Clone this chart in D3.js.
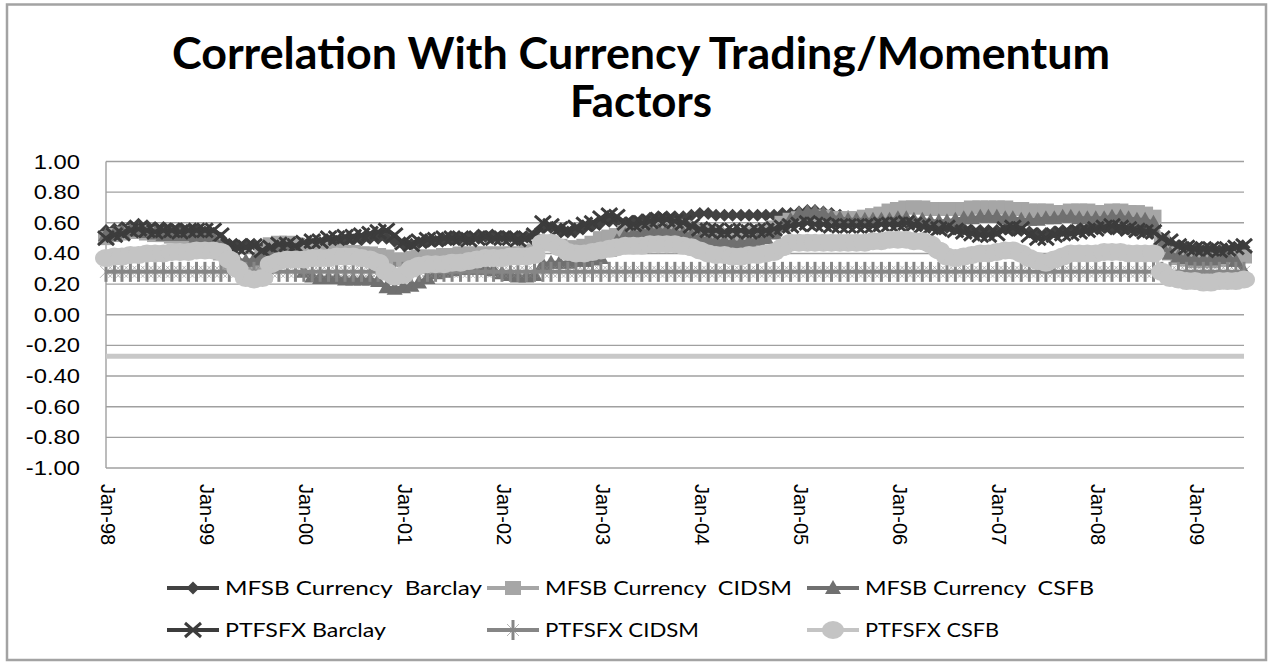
<!doctype html>
<html lang="en">
<head>
<meta charset="utf-8">
<title>Correlation With Currency Trading/Momentum Factors</title>
<style>
  body { margin: 0; background: #fff; }
  svg { display: block; }
  text { font-family: "Liberation Sans", Arial, sans-serif; fill: #000; }
  .title { font-family: Lato, "Open Sans", sans-serif; font-weight: 700; font-size: 43px; }
  .legend text { font-family: Lato, "Open Sans", sans-serif; font-size: 20px; white-space: pre; }
</style>
</head>
<body>
<div id="chart"></div>
<script src="https://cdn.jsdelivr.net/npm/d3@7"></script>
<script>
// monthly observations, Jan-98 .. Jul-09
const firstMonth = new Date(1998, 0, 1)
const lastMonth = new Date(2009, 6, 1)
const yearLabels = ['Jan-98','Jan-99','Jan-00','Jan-01','Jan-02','Jan-03','Jan-04','Jan-05','Jan-06','Jan-07','Jan-08','Jan-09']
const yTicks = [1, 0.8, 0.6, 0.4, 0.2, 0, -0.2, -0.4, -0.6, -0.8, -1]

const mfsbBarclay = [
  0.55,0.56,0.57,0.58,0.59,0.58,0.57,0.57,0.56,0.56,0.55,0.55,
  0.54,0.53,0.50,0.46,0.45,0.46,0.46,0.44,0.45,0.46,0.47,0.47,
  0.46,0.46,0.47,0.48,0.48,0.48,0.49,0.49,0.50,0.50,0.50,0.48,
  0.46,0.46,0.47,0.48,0.48,0.49,0.50,0.50,0.50,0.51,0.51,0.51,
  0.51,0.51,0.50,0.51,0.52,0.57,0.57,0.55,0.54,0.55,0.57,0.58,
  0.60,0.61,0.61,0.60,0.61,0.62,0.63,0.64,0.64,0.64,0.64,0.65,
  0.66,0.66,0.65,0.65,0.65,0.65,0.65,0.65,0.65,0.65,0.66,0.66,
  0.67,0.68,0.68,0.67,0.66,0.65,0.64,0.63,0.63,0.63,0.63,0.62,
  0.61,0.60,0.60,0.59,0.58,0.57,0.57,0.56,0.56,0.55,0.55,0.55,
  0.55,0.56,0.56,0.55,0.54,0.53,0.53,0.54,0.55,0.55,0.56,0.56,
  0.57,0.57,0.57,0.56,0.56,0.55,0.55,0.54,0.50,0.47,0.45,0.44,
  0.43,0.42,0.42,0.42,0.42,0.43,0.44
]
const mfsbCidsm = [
  0.50,0.52,0.53,0.54,0.54,0.53,0.52,0.52,0.51,0.51,0.50,0.50,
  0.50,0.48,0.40,0.33,0.31,0.30,0.32,0.40,0.46,0.47,0.47,0.46,
  0.45,0.44,0.43,0.42,0.42,0.41,0.41,0.40,0.40,0.39,0.38,0.36,
  0.36,0.37,0.38,0.38,0.38,0.39,0.39,0.40,0.40,0.40,0.40,0.40,
  0.40,0.40,0.40,0.41,0.42,0.46,0.47,0.45,0.44,0.44,0.45,0.47,
  0.50,0.51,0.52,0.54,0.55,0.56,0.57,0.58,0.58,0.58,0.57,0.56,
  0.55,0.54,0.53,0.52,0.52,0.52,0.53,0.54,0.55,0.57,0.60,0.62,
  0.63,0.63,0.64,0.64,0.63,0.63,0.63,0.63,0.64,0.65,0.66,0.68,
  0.69,0.70,0.70,0.70,0.69,0.69,0.69,0.69,0.69,0.70,0.70,0.70,
  0.70,0.70,0.69,0.69,0.68,0.68,0.68,0.67,0.67,0.68,0.68,0.68,
  0.67,0.67,0.68,0.68,0.67,0.67,0.66,0.64,0.48,0.40,0.37,0.36,
  0.35,0.35,0.35,0.36,0.36,0.37,0.38
]
const mfsbCsfb = [
  0.52,0.53,0.54,0.55,0.55,0.54,0.53,0.52,0.52,0.52,0.52,0.51,
  0.51,0.50,0.45,0.38,0.36,0.35,0.36,0.38,0.40,0.42,0.43,0.42,
  0.28,0.25,0.24,0.24,0.24,0.23,0.23,0.23,0.23,0.22,0.18,0.17,
  0.18,0.19,0.21,0.24,0.27,0.28,0.29,0.30,0.30,0.30,0.30,0.29,
  0.27,0.26,0.25,0.25,0.26,0.33,0.34,0.34,0.34,0.35,0.35,0.36,
  0.37,0.42,0.48,0.52,0.53,0.54,0.55,0.55,0.55,0.54,0.53,0.52,
  0.50,0.49,0.48,0.48,0.47,0.47,0.48,0.49,0.50,0.53,0.58,0.62,
  0.66,0.67,0.67,0.66,0.64,0.63,0.62,0.62,0.62,0.62,0.62,0.62,
  0.63,0.63,0.62,0.62,0.61,0.61,0.61,0.62,0.63,0.63,0.64,0.64,
  0.64,0.63,0.63,0.62,0.62,0.62,0.63,0.63,0.64,0.64,0.63,0.63,
  0.63,0.63,0.64,0.64,0.63,0.62,0.62,0.60,0.45,0.40,0.38,0.37,
  0.36,0.36,0.36,0.37,0.38,0.35,0.28
]
const ptfsfxBarclay = [
  0.50,0.52,0.53,0.55,0.56,0.55,0.54,0.55,0.55,0.54,0.55,0.55,
  0.55,0.55,0.52,0.45,0.44,0.44,0.45,0.42,0.44,0.46,0.46,0.45,
  0.47,0.48,0.48,0.50,0.50,0.51,0.51,0.52,0.53,0.54,0.55,0.52,
  0.47,0.46,0.48,0.49,0.49,0.50,0.50,0.50,0.49,0.50,0.51,0.50,
  0.50,0.50,0.49,0.50,0.52,0.60,0.58,0.56,0.55,0.57,0.59,0.60,
  0.63,0.65,0.64,0.60,0.59,0.60,0.61,0.62,0.62,0.61,0.60,0.58,
  0.56,0.55,0.55,0.54,0.55,0.55,0.54,0.55,0.55,0.56,0.57,0.58,
  0.59,0.60,0.59,0.59,0.58,0.58,0.58,0.58,0.58,0.58,0.59,0.59,
  0.59,0.60,0.59,0.58,0.57,0.56,0.57,0.55,0.54,0.53,0.52,0.52,
  0.53,0.56,0.57,0.56,0.52,0.50,0.50,0.52,0.53,0.53,0.54,0.55,
  0.56,0.57,0.58,0.57,0.56,0.55,0.54,0.54,0.50,0.48,0.45,0.44,
  0.43,0.43,0.43,0.42,0.43,0.44,0.45
]
const ptfsfxCidsm = [
  0.28,0.28,0.28,0.28,0.28,0.28,0.28,0.28,0.28,0.28,0.28,0.28,
  0.28,0.28,0.28,0.28,0.28,0.28,0.28,0.28,0.28,0.28,0.28,0.28,
  0.28,0.28,0.28,0.28,0.28,0.28,0.28,0.28,0.28,0.28,0.28,0.28,
  0.28,0.28,0.28,0.28,0.28,0.28,0.28,0.28,0.28,0.28,0.28,0.28,
  0.28,0.28,0.28,0.28,0.28,0.28,0.28,0.28,0.28,0.28,0.28,0.28,
  0.28,0.28,0.28,0.28,0.28,0.28,0.28,0.28,0.28,0.28,0.28,0.28,
  0.28,0.28,0.28,0.28,0.28,0.28,0.28,0.28,0.28,0.28,0.28,0.28,
  0.28,0.28,0.28,0.28,0.28,0.28,0.28,0.28,0.28,0.28,0.28,0.28,
  0.28,0.28,0.28,0.28,0.28,0.28,0.28,0.28,0.28,0.28,0.28,0.28,
  0.28,0.28,0.28,0.28,0.28,0.28,0.28,0.28,0.28,0.28,0.28,0.28,
  0.28,0.28,0.28,0.28,0.28,0.28,0.28,0.28,0.28,0.28,0.28,0.28,
  0.28,0.28,0.28,0.28,0.28,0.28,0.28
]
const ptfsfxCsfb = [
  0.37,0.38,0.38,0.39,0.39,0.40,0.40,0.40,0.41,0.41,0.41,0.42,
  0.42,0.42,0.41,0.36,0.30,0.24,0.23,0.24,0.33,0.35,0.36,0.36,
  0.36,0.37,0.37,0.37,0.38,0.38,0.38,0.37,0.36,0.34,0.28,0.25,
  0.26,0.30,0.32,0.33,0.33,0.33,0.34,0.34,0.35,0.36,0.37,0.37,
  0.37,0.38,0.38,0.38,0.39,0.47,0.47,0.44,0.41,0.40,0.40,0.41,
  0.42,0.43,0.44,0.45,0.45,0.45,0.46,0.46,0.46,0.46,0.45,0.44,
  0.42,0.40,0.39,0.39,0.38,0.38,0.39,0.39,0.40,0.41,0.44,0.47,
  0.47,0.47,0.47,0.47,0.47,0.47,0.47,0.47,0.47,0.48,0.48,0.49,
  0.49,0.49,0.48,0.48,0.46,0.42,0.38,0.37,0.38,0.39,0.40,0.40,
  0.41,0.42,0.42,0.40,0.37,0.35,0.34,0.36,0.38,0.40,0.40,0.40,
  0.40,0.41,0.41,0.41,0.40,0.40,0.40,0.40,0.28,0.24,0.23,0.22,
  0.22,0.21,0.21,0.22,0.22,0.22,0.23
]
// thick light line without a legend entry
const unlabeled = [
  -0.27,-0.27,-0.27,-0.27,-0.27,-0.27,-0.27,-0.27,-0.27,-0.27,-0.27,-0.27,
  -0.27,-0.27,-0.27,-0.27,-0.27,-0.27,-0.27,-0.27,-0.27,-0.27,-0.27,-0.27,
  -0.27,-0.27,-0.27,-0.27,-0.27,-0.27,-0.27,-0.27,-0.27,-0.27,-0.27,-0.27,
  -0.27,-0.27,-0.27,-0.27,-0.27,-0.27,-0.27,-0.27,-0.27,-0.27,-0.27,-0.27,
  -0.27,-0.27,-0.27,-0.27,-0.27,-0.27,-0.27,-0.27,-0.27,-0.27,-0.27,-0.27,
  -0.27,-0.27,-0.27,-0.27,-0.27,-0.27,-0.27,-0.27,-0.27,-0.27,-0.27,-0.27,
  -0.27,-0.27,-0.27,-0.27,-0.27,-0.27,-0.27,-0.27,-0.27,-0.27,-0.27,-0.27,
  -0.27,-0.27,-0.27,-0.27,-0.27,-0.27,-0.27,-0.27,-0.27,-0.27,-0.27,-0.27,
  -0.27,-0.27,-0.27,-0.27,-0.27,-0.27,-0.27,-0.27,-0.27,-0.27,-0.27,-0.27,
  -0.27,-0.27,-0.27,-0.27,-0.27,-0.27,-0.27,-0.27,-0.27,-0.27,-0.27,-0.27,
  -0.27,-0.27,-0.27,-0.27,-0.27,-0.27,-0.27,-0.27,-0.27,-0.27,-0.27,-0.27,
  -0.27,-0.27,-0.27,-0.27,-0.27,-0.27,-0.27
]

const seriesNames = ['MFSB Currency  Barclay', 'MFSB Currency  CIDSM', 'MFSB Currency  CSFB',
                     'PTFSFX Barclay', 'PTFSFX CIDSM', 'PTFSFX CSFB']
const seriesValues = [mfsbBarclay, mfsbCidsm, mfsbCsfb, ptfsfxBarclay, ptfsfxCidsm, ptfsfxCsfb]

// styling
const styles = [
  { color: '#424242', marker: 'diamond' },
  { color: '#a6a6a6', marker: 'square' },
  { color: '#707070', marker: 'triangle' },
  { color: '#3c3c3c', marker: 'cross' },
  { color: '#868686', marker: 'star' },
  { color: '#c4c4c4', marker: 'circle' }
]
const legendWidths = [257, 247, 229, 161, 154, 134]

const width = 1276, height = 663
const plot = { left: 106, right: 1244, top: 161.5, bottom: 468 }

const months = d3.timeMonth.range(firstMonth, d3.timeMonth.offset(lastMonth, 1))

const x = d3.scaleTime().domain([firstMonth, lastMonth]).range([plot.left, plot.right])
const y = d3.scaleLinear().domain([-1, 1]).range([plot.bottom, plot.top])

const svg = d3.select('#chart').append('svg')
  .attr('width', width).attr('height', height)

svg.append('rect')
  .attr('x', 7).attr('y', 4.5).attr('width', 1259).attr('height', 655.5)
  .attr('fill', '#fff').attr('stroke', '#a3a3a3').attr('stroke-width', 2.5)

// title
svg.selectAll('.title')
  .data(['Correlation With Currency Trading/Momentum', 'Factors'])
  .enter().append('text')
    .attr('class', 'title')
    .attr('x', 641)
    .attr('y', (d, i) => 69 + i * 48)
    .attr('text-anchor', 'middle')
    .attr('textLength', (d, i) => i === 0 ? 938 : 142)
    .attr('lengthAdjust', 'spacingAndGlyphs')
    .text(d => d)

// gridlines
svg.append('g').selectAll('line')
  .data(yTicks)
  .enter().append('line')
    .attr('x1', plot.left).attr('x2', plot.right)
    .attr('y1', d => y(d)).attr('y2', d => y(d))
    .attr('stroke', '#a0a0a0').attr('stroke-width', 1.4)

svg.append('line')
  .attr('x1', plot.left).attr('x2', plot.left)
  .attr('y1', plot.top).attr('y2', plot.bottom)
  .attr('stroke', '#a0a0a0').attr('stroke-width', 1.4)

// y labels (stretched a bit wide like the source)
svg.append('g').selectAll('text')
  .data(yTicks)
  .enter().append('text')
    .attr('transform', d => `translate(80,${y(d) + 7}) scale(1.22,1)`)
    .attr('text-anchor', 'end')
    .style('font-size', '19.5px')
    .text(d => d.toFixed(2))

// x labels, rotated
const xAxis = d3.axisBottom(x)
  .tickValues(yearLabels.map(s => d3.timeParse('%b-%y')(s)))
  .tickFormat(d3.timeFormat('%b-%y'))
  .tickSize(0)

const gx = svg.append('g')
  .attr('transform', `translate(0,${plot.bottom})`)
  .call(xAxis)
gx.select('.domain').remove()
gx.selectAll('text')
  .attr('transform', 'rotate(90)')
  .attr('x', 16).attr('y', 0)
  .attr('dy', '0.35em')
  .attr('dx', 0)
  .attr('text-anchor', 'start')
  .style('font-size', '20px')
  .style('font-family', '"Liberation Sans", Arial, sans-serif')
  .attr('fill', '#000')
// shift label centres slightly right of the tick
gx.selectAll('.tick').attr('transform', d => `translate(${x(d) + 2},0)`)

// marker shapes
const markerPath = {
  diamond: 'M0,-6.5L6.5,0L0,6.5L-6.5,0Z',
  square: 'M-8,-7H8V7H-8Z',
  triangle: 'M0,-8L8,6H-8Z',
  cross: 'M-8,-7L8,7M-8,7L8,-7',
  star: 'M0,-10V10',
  starThin: 'M-6,-6L6,6M-6,6L6,-6'
}

function drawMarker(g, kind, color) {
  if (kind === 'circle') {
    g.append('ellipse').attr('rx', 11).attr('ry', 9).attr('fill', color)
  } else if (kind === 'cross') {
    g.append('path').attr('d', markerPath.cross).attr('stroke', color)
      .attr('stroke-width', 3).attr('fill', 'none')
  } else if (kind === 'star') {
    g.append('path').attr('d', markerPath.starThin).attr('stroke', color)
      .attr('stroke-width', 1).attr('fill', 'none').attr('opacity', 0.6)
    g.append('path').attr('d', markerPath.star).attr('stroke', color)
      .attr('stroke-width', 3).attr('fill', 'none')
  } else {
    g.append('path').attr('d', markerPath[kind]).attr('fill', color)
  }
}

const line = d3.line()
  .x((d, i) => x(months[i]))
  .y(d => y(d))

// unlabeled thick light line
svg.append('path')
  .datum(unlabeled)
  .attr('d', line)
  .attr('fill', 'none')
  .attr('stroke', '#c8c8c8')
  .attr('stroke-width', 5)

seriesValues.forEach((vals, s) => {
  const st = styles[s]
  const g = svg.append('g')
  g.append('path')
    .datum(vals)
    .attr('d', line)
    .attr('fill', 'none')
    .attr('stroke', st.color)
    .attr('stroke-width', 4)
    .attr('stroke-linejoin', 'round')
  g.selectAll('g.m')
    .data(vals)
    .enter().append('g')
      .attr('class', 'm')
      .attr('transform', (d, i) => `translate(${x(months[i])},${y(d)})`)
      .each(function () { drawMarker(d3.select(this), st.marker, st.color) })
})

// legend
const legendCols = [167, 487, 807]
const legendRows = [588, 630]
const legend = svg.append('g').attr('class', 'legend')
seriesNames.forEach((name, i) => {
  const lx = legendCols[i % 3]
  const ly = legendRows[Math.floor(i / 3)]
  const st = styles[i]
  const item = legend.append('g').attr('transform', `translate(${lx},${ly})`)
  item.append('line')
    .attr('x1', 0).attr('x2', 52).attr('y1', 0).attr('y2', 0)
    .attr('stroke', st.color).attr('stroke-width', 4)
  drawMarker(item.append('g').attr('transform', 'translate(26,0)'), st.marker, st.color)
  item.append('text')
    .attr('x', 58).attr('y', 7)
    .attr('textLength', legendWidths[i])
    .attr('lengthAdjust', 'spacingAndGlyphs')
    .text(name)
})
</script>
</body>
</html>
